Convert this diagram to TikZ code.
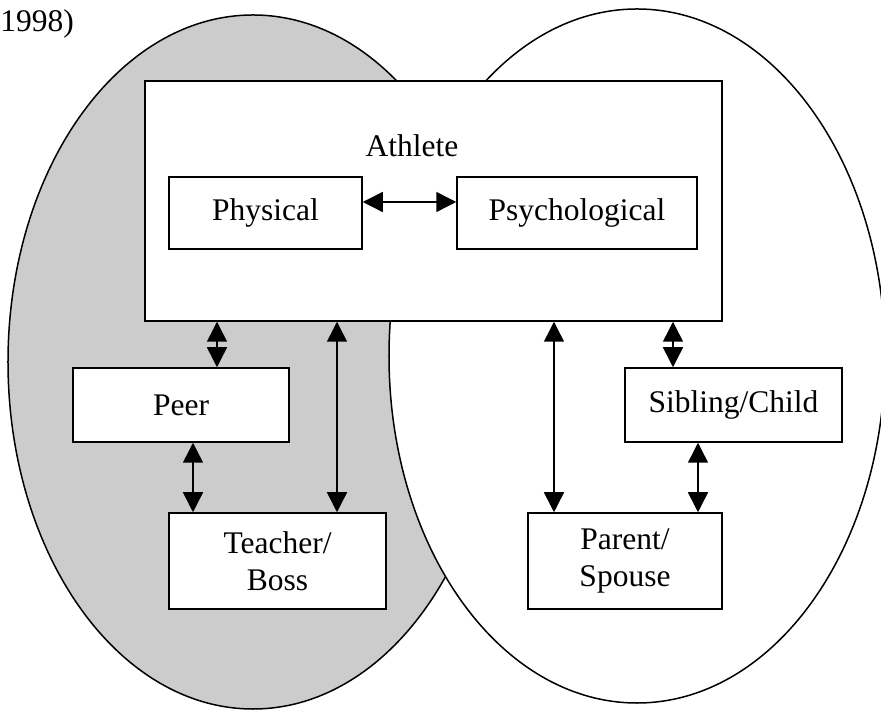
\documentclass[tikz,border=0pt]{standalone}
\usepackage{fontspec}
\setmainfont{Liberation Serif}
\usepackage{xcolor}
\usetikzlibrary{arrows.meta}
\definecolor{sportgray}{HTML}{CCCCCC}

\begin{document}
\begin{tikzpicture}[ % pixel grid of the scanned figure
    x=0.4pt, y=-0.4pt,
    font=\fontsize{12.6}{15}\selectfont,
    box/.style={rectangle, draw, fill=white, line width=0.6pt, inner sep=0pt, align=center},
    line/.style={draw, line width=0.6pt, {Triangle[length=8pt,width=8pt]}-{Triangle[length=8pt,width=8pt]}},
    ring/.style={draw, line width=0.6pt}
    ]
    \useasboundingbox (0,0) rectangle (881,711);

    % Spheres (the white one lies over the grey one)
    \path [ring, fill=sportgray] (253,362) ellipse [x radius=98pt, y radius=138.8pt];
    \path [ring, fill=white] (637,356) ellipse [x radius=99.2pt, y radius=138.8pt];

    % Caption fragment
    \node [anchor=base west, inner sep=0pt] (year) at (0,32) {1998)};

    % Athlete
    \node [box, minimum width=230.8pt, minimum height=96pt] (athlete) at (433.5,201) {};
    \node [anchor=base, inner sep=0pt] (athleteLbl) at (412,157) {Athlete};
    \node [box, minimum width=77.2pt, minimum height=28.8pt] (physical) at (265.5,213) {Physical};
    \node [box, minimum width=96pt, minimum height=28.8pt] (psych) at (577,213) {Psychological};

    % Other people
    \node [box, minimum width=86.4pt, minimum height=29.6pt] (peer) at (181,405) {Peer};
    \node [box, minimum width=86.8pt, minimum height=29.6pt] (sibling) at (733.5,405) {Sibling/Child};
    \node [box, minimum width=86.8pt, minimum height=38.4pt] (teacher) at (277.5,561) {Teacher/\\Boss};
    \node [box, minimum width=77.6pt, minimum height=38.4pt] (parent) at (625,561) {Parent/\\Spouse};

    % Draw edges
    \path [line] ([yshift=4.4pt]physical.east) -- ([yshift=4.4pt]psych.west);
    \path [line] ([xshift=14.4pt]peer.north |- athlete.south) -- ([xshift=14.4pt]peer.north);
    \path [line] ([xshift=23.8pt]teacher.north |- athlete.south) -- ([xshift=23.8pt]teacher.north);
    \path [line] ([xshift=4.8pt]peer.south) -- ([xshift=4.8pt]peer.south |- teacher.north);
    \path [line] ([xshift=-28.4pt]parent.north |- athlete.south) -- ([xshift=-28.4pt]parent.north);
    \path [line] ([xshift=-24.2pt]sibling.north |- athlete.south) -- ([xshift=-24.2pt]sibling.north);
    \path [line] ([xshift=-14.2pt]sibling.south) -- ([xshift=-14.2pt]sibling.south |- parent.north);

\end{tikzpicture}
\end{document}
